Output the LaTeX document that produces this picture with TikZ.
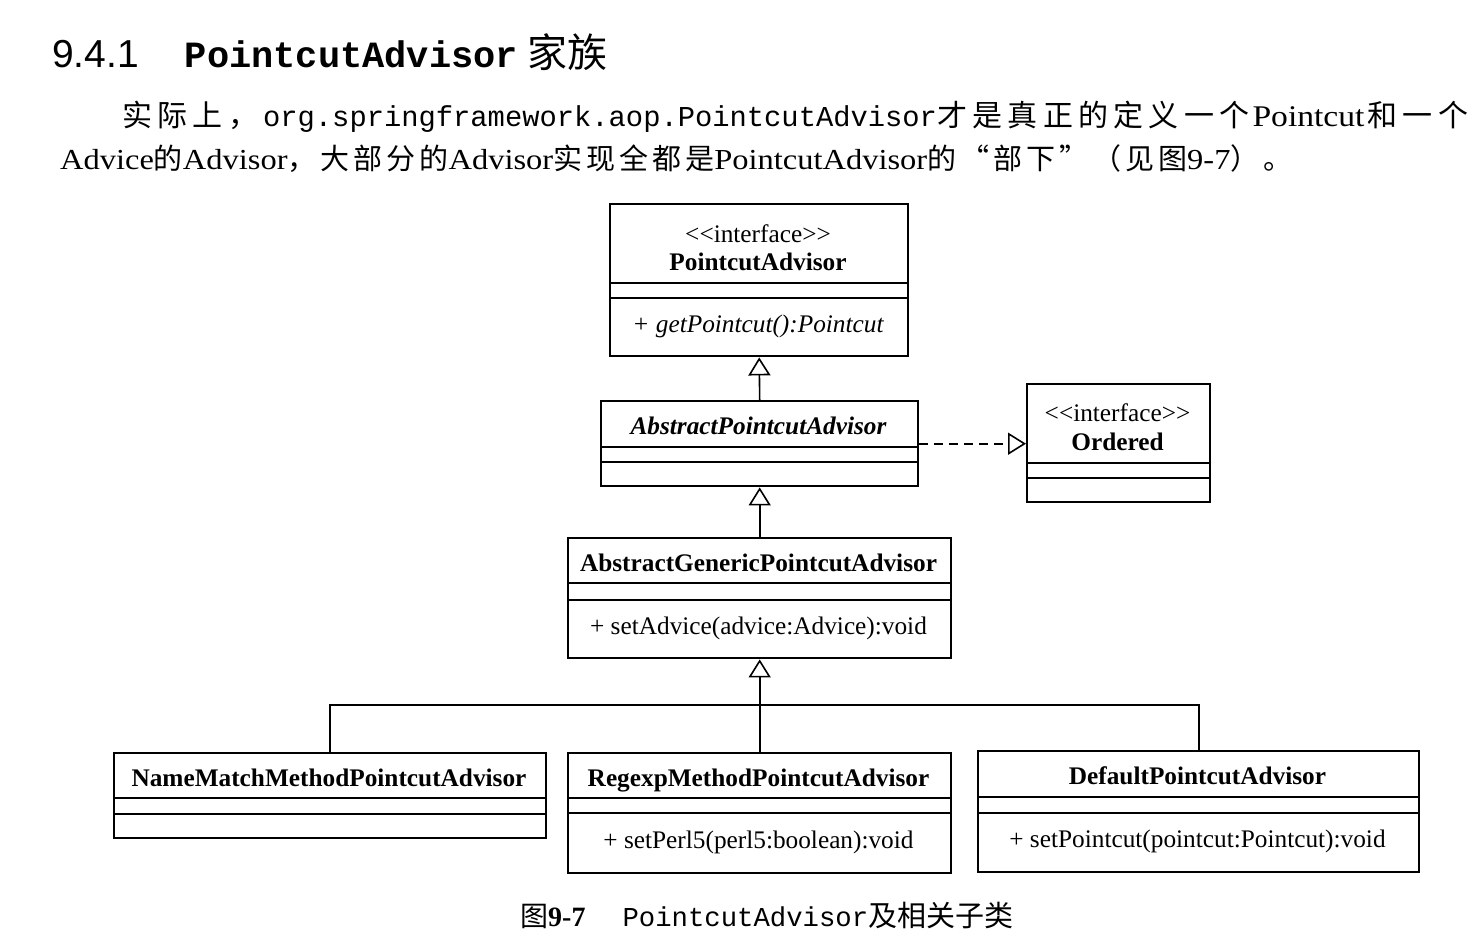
\documentclass[tikz,border=0pt]{standalone}
\usepackage{fontspec}
\setmainfont{Liberation Serif}
\newfontfamily\cjk{Noto Sans CJK SC}
\newfontfamily\monof{Liberation Mono}
\newfontfamily\hsans{Liberation Sans}
\newfontfamily\wideserif[FakeStretch=1.12]{Liberation Serif}
\usetikzlibrary{arrows.meta}
\newdimen\cjkgap
\cjkgap=5pt
\makeatletter
\def\cjkspaced#1{\cjk@first#1\@nil}
\def\cjk@first#1{\ifx#1\@nil\else{\cjk#1}\expandafter\cjk@aux\fi}
\def\cjk@aux#1{\ifx#1\@nil\else\kern\cjkgap{\cjk#1}\expandafter\cjk@aux\fi}
\makeatother
\newcommand\stereo{<{}<interface>{}>}
\tikzset{
  box/.style={draw, line width=2.4pt, anchor=north west, inner sep=0pt},
  sepline/.style={line width=2pt},
  lbl/.style={inner sep=0pt, text height=17pt, text depth=5pt, font=\fontsize{25.3}{28}\selectfont},
  nm/.style={lbl, font=\fontsize{25.3}{28}\selectfont\bfseries},
  conn/.style={line width=1.6pt},
  inh/.style={conn, -{Triangle[open, length=18pt, width=22pt, line width=1.6pt]}},
  body/.style={inner sep=0pt, anchor=base west, font=\fontsize{28}{32}\selectfont},
}
\begin{document}
\begin{tikzpicture}[x=1pt, y=-1pt]
\useasboundingbox[fill=white] (0,0) rectangle (1476,946);

% heading and paragraph
\node[inner sep=0pt, anchor=base west] (head) at (52,67)
  {{\hsans\fontsize{39}{40}\selectfont 9.4.1}\hspace{46pt}{\monof\bfseries\fontsize{37}{40}\selectfont PointcutAdvisor}\hspace{10pt}{\cjk\fontsize{40}{42}\selectfont 家族}};
\node[body] (line1) at (122,126)
  {\fontsize{30}{32}\selectfont\cjkgap=5.3pt\cjkspaced{实际上，}\kern5pt{\monof\fontsize{28.8}{32}\selectfont org.springframework.aop.PointcutAdvisor}\cjkspaced{才是真正的定义一个}\kern3pt{\wideserif Pointcut}\kern3pt\cjkspaced{和一个}};
\node[body] (line2) at (60,169)
  {\fontsize{29}{32}\selectfont\cjkgap=4pt\wideserif Advice\cjkspaced{的}Advisor\cjkspaced{，大部分的}Advisor\cjkspaced{实现全都是}PointcutAdvisor\cjkspaced{的“部下”（见图}9-7\cjkspaced{）。}};

% PointcutAdvisor
\node[box, minimum width=298pt, minimum height=152pt] (pa) at (609,203) {};
\draw[sepline] (pa.west |- 0,283) -- (pa.east |- 0,283);
\draw[sepline] (pa.west |- 0,298) -- (pa.east |- 0,298);
\node[lbl] (paS) at (758,236) {\stereo};
\node[nm] (paN) at (758,264) {PointcutAdvisor};
\node[lbl] (paM) at (758,326) {\itshape + getPointcut():Pointcut};

% AbstractPointcutAdvisor
\node[box, minimum width=317pt, minimum height=85pt] (apa) at (600,400) {};
\draw[sepline] (apa.west |- 0,447) -- (apa.east |- 0,447);
\draw[sepline] (apa.west |- 0,462) -- (apa.east |- 0,462);
\node[nm] (apaN) at (758.5,428) {\itshape AbstractPointcutAdvisor};

% Ordered
\node[box, minimum width=183pt, minimum height=118pt] (ord) at (1026,383) {};
\draw[sepline] (ord.west |- 0,463) -- (ord.east |- 0,463);
\draw[sepline] (ord.west |- 0,478) -- (ord.east |- 0,478);
\node[lbl] (ordS) at (1117.5,415) {\stereo};
\node[nm] (ordN) at (1117.5,444) {Ordered};

% AbstractGenericPointcutAdvisor
\node[box, minimum width=383pt, minimum height=120pt] (agpa) at (567,537) {};
\draw[sepline] (agpa.west |- 0,583) -- (agpa.east |- 0,583);
\draw[sepline] (agpa.west |- 0,600) -- (agpa.east |- 0,600);
\node[nm] (agpaN) at (758.5,565) {AbstractGenericPointcutAdvisor};
\node[lbl] (agpaM) at (758.5,628) {+ setAdvice(advice:Advice):void};

% NameMatchMethodPointcutAdvisor
\node[box, minimum width=432pt, minimum height=85pt] (nmm) at (113,752) {};
\draw[sepline] (nmm.west |- 0,798) -- (nmm.east |- 0,798);
\draw[sepline] (nmm.west |- 0,814) -- (nmm.east |- 0,814);
\node[nm] (nmmN) at (329,780) {NameMatchMethodPointcutAdvisor};

% RegexpMethodPointcutAdvisor
\node[box, minimum width=383pt, minimum height=120pt] (rmp) at (567,752) {};
\draw[sepline] (rmp.west |- 0,798) -- (rmp.east |- 0,798);
\draw[sepline] (rmp.west |- 0,813) -- (rmp.east |- 0,813);
\node[nm] (rmpN) at (758.5,780) {RegexpMethodPointcutAdvisor};
\node[lbl] (rmpM) at (758.5,842) {+ setPerl5(perl5:boolean):void};

% DefaultPointcutAdvisor
\node[box, minimum width=441pt, minimum height=121pt] (dpa) at (977,750) {};
\draw[sepline] (dpa.west |- 0,797) -- (dpa.east |- 0,797);
\draw[sepline] (dpa.west |- 0,813) -- (dpa.east |- 0,813);
\node[nm] (dpaN) at (1197.5,778) {DefaultPointcutAdvisor};
\node[lbl] (dpaM) at (1197.5,841) {+ setPointcut(pointcut:Pointcut):void};

% connectors
\draw[inh] (apa.north) -- (pa.south);
\draw[inh, dashed, dash pattern=on 9pt off 6pt] (apa.east) -- (ord.west |- apa.east);
\draw[inh] (agpa.north) -- (apa.south);
\coordinate (bus) at (758.5,705);
\draw[conn] (nmm.north) |- (bus) -| (dpa.north);
\draw[inh] (rmp.north) -- (agpa.south);

% caption
\node[inner sep=0pt, anchor=base west] (cap) at (520,926)
  {\fontsize{28}{30}\selectfont{\cjk 图}\textbf{9-7}\hspace{37pt}{\monof\fontsize{27.3}{30}\selectfont PointcutAdvisor}{\cjk\fontsize{29}{30}\selectfont 及相关子类}};
\end{tikzpicture}
\end{document}
